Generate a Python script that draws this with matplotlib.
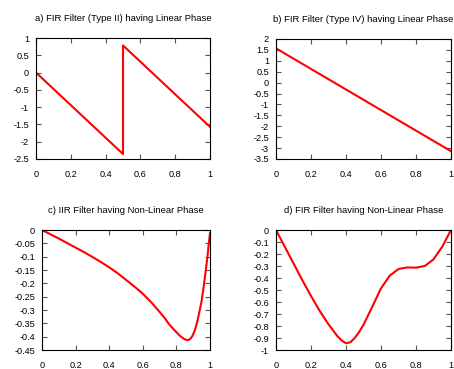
import matplotlib
matplotlib.use("Agg")
import matplotlib.pyplot as plt
import numpy as np
from matplotlib.ticker import FuncFormatter

plt.rcParams["font.family"] = ["Liberation Sans", "DejaVu Sans"]
plt.rcParams["axes.unicode_minus"] = False

# a) FIR type II, linear phase (wrapped)
a_x = [0, 0.5, 0.5, 1.0]
a_y = [0, -2.356, 0.785, -1.571]

# b) FIR type IV, linear phase
b_x = [0, 0, 1.0]
b_y = [0, 1.571, -3.142]

# c) IIR, non-linear phase
c_x = [0, 0.05, 0.1, 0.15, 0.2, 0.25, 0.3, 0.35, 0.4, 0.45, 0.5, 0.55, 0.6,
       0.65, 0.7, 0.73, 0.757, 0.78, 0.8, 0.82, 0.836, 0.85, 0.865, 0.88,
       0.895, 0.91, 0.925, 0.94, 0.95, 0.962, 0.974, 0.985, 0.994, 1.0]
c_y = [0, -0.016, -0.032, -0.049, -0.066, -0.083, -0.101, -0.12, -0.14, -0.162,
       -0.187, -0.212, -0.239, -0.271, -0.307, -0.33, -0.354, -0.37, -0.383,
       -0.396, -0.404, -0.41, -0.413, -0.41, -0.398, -0.376, -0.342, -0.297,
       -0.267, -0.215, -0.155, -0.1, -0.043, -0.012]

# d) FIR, non-linear phase
d_x = [0, 0.05, 0.1, 0.15, 0.2, 0.25, 0.3, 0.35, 0.375, 0.4, 0.425, 0.45,
       0.475, 0.5, 0.55, 0.6, 0.65, 0.7, 0.75, 0.8, 0.85, 0.9, 0.95, 1.0]
d_y = [0, -0.139, -0.278, -0.417, -0.55, -0.675, -0.786, -0.883, -0.92,
       -0.944, -0.935, -0.90, -0.85, -0.79, -0.64, -0.486, -0.38, -0.325,
       -0.312, -0.314, -0.3, -0.245, -0.139, 0]

panels = [
    ("a) FIR Filter (Type II) having Linear Phase", a_x, a_y, (-2.5, 1), 0.5,
     [36, 38, 210, 159]),
    ("b) FIR Filter (Type IV) having Linear Phase", b_x, b_y, (-3.5, 2), 0.5,
     [276, 39, 451, 159]),
    ("c) IIR Filter having Non-Linear Phase", c_x, c_y, (-0.45, 0), 0.05,
     [42, 230, 210, 350]),
    ("d) FIR Filter having Non-Linear Phase", d_x, d_y, (-1, 0), 0.1,
     [276, 230, 451, 350]),
]

W, H = 454, 369
fig = plt.figure(figsize=(W / 100, H / 100), dpi=100)
fmt = FuncFormatter(lambda v, p: f"{round(v, 3):g}" if abs(v) > 1e-9 else "0")

for title, xs, ys, ylim, step, (l, t, r, b) in panels:
    ax = fig.add_axes([l / W, (H - b) / H, (r - l) / W, (b - t) / H])
    ax.plot(xs, ys, color="#ff0000", lw=1.5)
    ax.set_xlim(0, 1)
    ax.set_ylim(*ylim)
    ax.set_xticks(np.arange(0, 1.01, 0.2))
    ax.set_yticks(np.arange(ylim[0], ylim[1] + step / 2, step))
    ax.xaxis.set_major_formatter(fmt)
    ax.yaxis.set_major_formatter(fmt)
    ax.tick_params(direction="in", top=True, right=True, length=3.5, width=0.8,
                   color="#555555", labelsize=6.6)
    ax.tick_params(axis="x", pad=8)
    ax.tick_params(axis="y", pad=5)
    for s in ax.spines.values():
        s.set_linewidth(0.8)
    ax.set_title(title, fontsize=6.8, pad=12)

fig.savefig("out.png", dpi=100)
